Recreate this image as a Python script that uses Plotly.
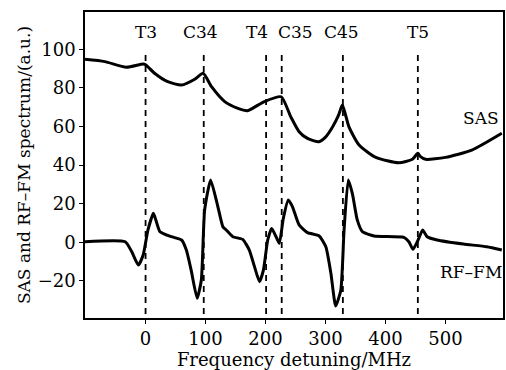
import plotly.graph_objects as go

# SAS spectrum
sas_x = [-101, -68, -32, -4, 0, 15, 37, 60, 82, 96, 110, 132, 154, 170, 198, 226, 242, 256, 270, 289, 300, 312, 322,
         328, 333, 339, 356, 384, 422, 445, 454, 458, 467, 500, 544, 594]
sas_y = [94.8, 93.6, 90.7, 92.4, 92.0, 87.6, 83.2, 81.5, 84.5, 87.6, 80.6, 72.9, 69.4, 68.2, 72.9, 75.4, 65.1, 57.3, 53.8,
         52.1, 54.5, 59.9, 66.0, 71.1, 66.5, 59.9, 50.4, 44.0, 41.2, 43.0, 46.1, 44.5, 43.0, 44.0, 47.8, 56.5]

# RF-FM spectrum
rf_x = [-101, -34, -23, -12, -4, 4, 13, 18, 24, 43, 60, 68, 76, 86, 93, 98.5, 108.5, 120.6, 129, 134.5, 145.5, 162,
        173, 181.6, 190, 196.5, 203.7, 210.3, 217.6, 223, 229.7, 238, 245, 256, 270, 289.5, 300.6, 309, 317, 325.6,
        331, 338, 345, 353, 361.5, 381, 430.7, 439, 446, 455.6, 462, 469.5, 486, 530, 569, 594]
rf_y = [0.3, 0.3, -4.9, -11.8, -6.6, 6.4, 15, 10.7, 5.5, 2.9, 1.2, -4, -14.4, -29, -19.5, 16.7, 32.3, 18.4, 8, 6.4,
        2.9, 1.5, -4, -12.6, -20.4, -14.4, 1.2, 7.2, 2.9, -0.5, 12.4, 21.9, 18.4, 9, 5, 3.3, -2.3, -16, -33, -24.7,
        6.4, 32.3, 25, 11.6, 5.5, 3.3, 2.6, 0.3, -3.6, 2, 6.4, 2.9, 1.2, -0.9, -2.3, -4]

# Transition markers
line_names = ["T3", "C34", "T4", "C35", "C45", "T5"]
line_pos = [0, 97, 201, 227, 329, 454]
label_pos = [0, 92, 186, 250, 327, 454]
label_y = 109
dash_top = 97
dash_bottom = -39.2

x_ticks = [0, 100, 200, 300, 400, 500]
y_ticks = [-20, 0, 20, 40, 60, 80, 100]

font_family = "DejaVu Serif"
fsize = 18

fig = go.Figure()

for xp in line_pos:
    fig.add_trace(go.Scatter(x=[xp, xp], y=[dash_top, dash_bottom], mode="lines",
                             line=dict(color="black", width=1.8, dash="6px,5px"),
                             showlegend=False, hoverinfo="skip"))

fig.add_trace(go.Scatter(x=sas_x, y=sas_y, mode="lines", line_shape="spline",
                         line=dict(color="black", width=3, smoothing=0.6), showlegend=False))
fig.add_trace(go.Scatter(x=rf_x, y=rf_y, mode="lines", line_shape="spline",
                         line=dict(color="black", width=3, smoothing=0.5), showlegend=False))

for name, xp in zip(line_names, label_pos):
    fig.add_annotation(x=xp, y=label_y, text=name, showarrow=False,
                       font=dict(family=font_family, size=fsize - 1, color="black"))

fig.add_annotation(x=559, y=64.4, text="SAS", showarrow=False,
                   font=dict(family=font_family, size=fsize - 1, color="black"))
fig.add_annotation(x=543, y=-15.4, text="RF\u2013FM", showarrow=False,
                   font=dict(family=font_family, size=fsize - 1, color="black"))

axis_common = dict(showline=True, mirror=True, linecolor="black", linewidth=1.5,
                   ticks="outside", ticklen=4, tickcolor="black", tickwidth=1.2,
                   showgrid=False, zeroline=False,
                   tickfont=dict(family=font_family, size=fsize, color="black"))

fig.update_xaxes(range=[-101, 596], tickvals=x_ticks,
                 title=dict(text="Frequency detuning/MHz", standoff=0,
                            font=dict(family=font_family, size=fsize, color="black")),
                 **axis_common)
fig.update_yaxes(range=[-39.2, 119.3], tickvals=y_ticks,
                 title=dict(text="SAS and RF\u2013FM spectrum/(a.u.)", standoff=3,
                            font=dict(family=font_family, size=fsize - 1, color="black")),
                 **axis_common)

fig.update_layout(width=506, height=370, margin=dict(l=85, r=1, t=12, b=52),
                  plot_bgcolor="white", paper_bgcolor="white")

fig.write_html("out.html")
